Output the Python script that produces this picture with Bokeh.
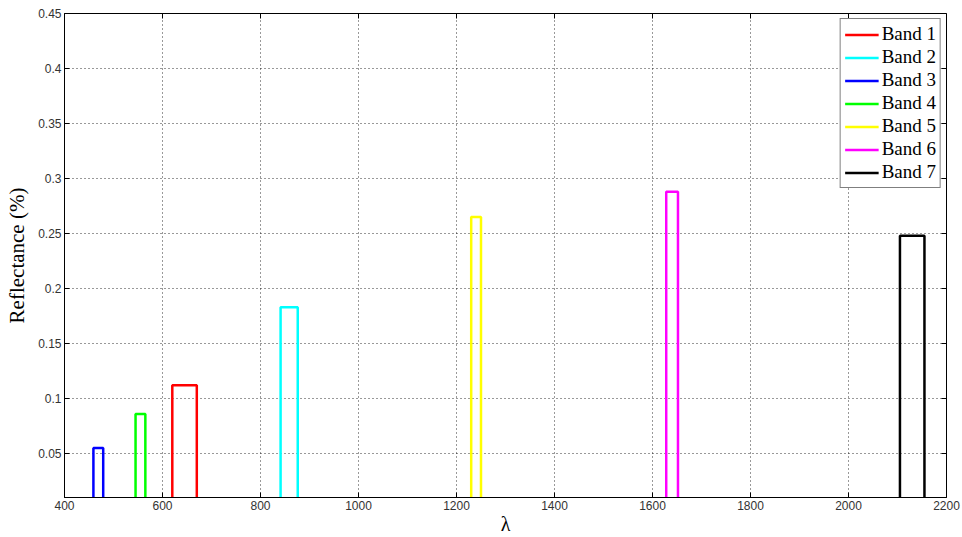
import math
from bokeh.plotting import figure
from bokeh.models import FixedTicker, Legend, LegendItem
from bokeh.embed import file_html
from bokeh.resources import INLINE

bands = ["Band 1", "Band 2", "Band 3", "Band 4", "Band 5", "Band 6", "Band 7"]
band_lo = [620, 841, 459, 545, 1230, 1628, 2105]
band_hi = [670, 876, 479, 565, 1250, 1652, 2155]
reflectance = [0.112, 0.183, 0.055, 0.086, 0.265, 0.288, 0.248]
colors = ["#FF0000", "#00FFFF", "#0000FF", "#00FF00", "#FFFF00", "#FF00FF", "#000000"]
base = 0.0
x_min, x_max = 400, 2200
y_min, y_max = 0.01, 0.45
x_ticks = [400, 600, 800, 1000, 1200, 1400, 1600, 1800, 2000, 2200]
y_ticks = [0.05, 0.1, 0.15, 0.2, 0.25, 0.3, 0.35, 0.4, 0.45]
y_tick_labels = ["0.05", "0.1", "0.15", "0.2", "0.25", "0.3", "0.35", "0.4", "0.45"]

p = figure(width=962, height=537, x_range=(x_min, x_max), y_range=(y_min, y_max),
           output_backend="svg", toolbar_location=None,
           min_border_left=64, min_border_right=16, min_border_top=13, min_border_bottom=39)

p.outline_line_color = "#000000"
p.outline_line_width = 1

tick_font = "Liberation Sans"
for ax in (p.xaxis[0], p.yaxis[0]):
    ax.major_tick_in = 5
    ax.major_tick_out = 0
    ax.minor_tick_in = 0
    ax.minor_tick_out = 0
    ax.major_label_text_font = tick_font
    ax.major_label_text_font_size = "12px"
    ax.major_label_text_color = "#333333"
    ax.axis_line_color = "#000000"
    ax.major_tick_line_color = "#000000"
    ax.axis_label_text_font = "Liberation Serif"
    ax.axis_label_text_font_style = "normal"
    ax.axis_label_text_color = "#000000"

p.xaxis.ticker = FixedTicker(ticks=x_ticks)
p.yaxis.ticker = FixedTicker(ticks=y_ticks)
p.yaxis.major_label_overrides = {t: l for t, l in zip(y_ticks, y_tick_labels)}
p.xaxis.major_label_standoff = 3
p.yaxis.major_label_standoff = 3
p.xaxis.axis_label = "λ"
p.xaxis.axis_label_text_font_size = "20px"
p.xaxis.axis_label_standoff = 0
p.yaxis.axis_label = "Reflectance (%)"
p.yaxis.axis_label_text_font_size = "21px"
p.yaxis.axis_label_standoff = 6

p.xgrid.ticker = FixedTicker(ticks=x_ticks)
p.ygrid.ticker = FixedTicker(ticks=y_ticks)
for g in (p.xgrid[0], p.ygrid[0]):
    g.grid_line_color = "#000000"
    g.grid_line_dash = "1 3"
    g.grid_line_width = 1
    g.grid_line_alpha = 0.8

# mirrored box ticks on the top and right edges (clipped to the frame)
p.scatter(x=x_ticks, y=[y_max] * len(x_ticks), marker="dash", size=10,
          angle=math.pi / 2, line_color="#000000", line_width=1)
p.scatter(x=[x_max] * len(y_ticks), y=y_ticks, marker="dash", size=10,
          line_color="#000000", line_width=1)

items = []
for name, lo, hi, r, c in zip(bands, band_lo, band_hi, reflectance, colors):
    xs = [lo, lo, hi, hi]
    ys = [base, r, r, base]
    rend = p.line(xs, ys, line_color=c, line_width=2.5)
    items.append(LegendItem(label=name, renderers=[rend]))

legend = Legend(items=items, location="top_right")
legend.label_text_font = "Liberation Serif"
legend.label_text_font_size = "19px"
legend.label_text_color = "#000000"
legend.glyph_width = 34
legend.glyph_height = 21
legend.label_height = 21
legend.label_standoff = 3
legend.spacing = 1
legend.padding = 4
legend.margin = 5
legend.border_line_color = "#000000"
legend.border_line_width = 1
legend.background_fill_color = "#ffffff"
legend.background_fill_alpha = 1.0
p.add_layout(legend)

open("out.html", "w").write(file_html(p, INLINE))
